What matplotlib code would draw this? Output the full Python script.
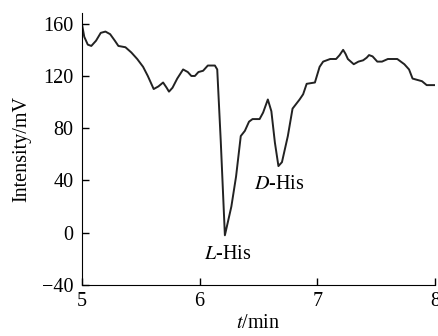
import matplotlib.pyplot as plt

# chromatogram
t = [5.0, 5.02, 5.05, 5.08, 5.12, 5.16, 5.2, 5.24, 5.28, 5.31, 5.37, 5.42, 5.47, 5.52,
     5.56, 5.59, 5.61, 5.65, 5.69, 5.72, 5.74, 5.77, 5.81, 5.86, 5.9, 5.93, 5.96, 5.99,
     6.03, 6.07, 6.10, 6.13, 6.15, 6.18, 6.215, 6.24, 6.27, 6.31, 6.35, 6.385,
     6.42, 6.45, 6.51, 6.54, 6.58, 6.61, 6.64, 6.67, 6.70, 6.75, 6.79, 6.85, 6.88,
     6.91, 6.98, 7.02, 7.05, 7.08, 7.11, 7.16, 7.19, 7.22, 7.24, 7.26, 7.31, 7.35,
     7.39, 7.42, 7.44, 7.47, 7.51, 7.55, 7.60, 7.68, 7.74, 7.78, 7.81, 7.85, 7.89,
     7.93, 8.0]
intensity = [160, 150, 144, 143, 147, 153, 154, 152, 147, 143, 142, 138, 133, 127,
             120, 114, 110, 112, 115, 111, 108, 111, 118, 125, 123, 120, 120, 123,
             124, 128, 128, 128, 125, 70, -2, 8, 20, 43, 74, 78,
             85, 87, 87, 92, 102, 93, 69, 51, 54, 74, 95, 102, 106,
             114, 115, 127, 131, 132, 133, 133, 136, 140, 137, 133, 129, 131,
             132, 134, 136, 135, 131, 131, 133, 133, 129, 125, 118, 117, 116,
             113, 113]

plt.rcParams['font.family'] = 'Liberation Serif'
plt.rcParams['mathtext.fontset'] = 'stix'
fs = 14.5

fig = plt.figure(figsize=(4.38, 3.36), dpi=100)
ax = fig.add_axes([0.187, 0.152, 0.806, 0.81])
ax.plot(t, intensity, color='#222222', lw=1.4)

ax.set_xlim(5, 8)
ax.set_ylim(-40, 168.4)
ax.set_xticks([5, 6, 7, 8])
ax.set_yticks([-40, 0, 40, 80, 120, 160])
ax.set_yticklabels(['\u221240', '0', '40', '80', '120', '160'])
ax.spines['top'].set_visible(False)
ax.spines['right'].set_visible(False)
ax.tick_params(direction='in', length=5, width=1, labelsize=fs)
ax.tick_params(axis='y', pad=6)
ax.tick_params(axis='x', pad=5)
ax.set_xlabel('$t$/min', fontsize=fs, labelpad=2)
ax.set_ylabel('Intensity/mV', fontsize=fs, labelpad=8)

ax.text(6.24, -17, '$L$-His', fontsize=fs, ha='center', va='center')
ax.text(6.68, 37, '$D$-His', fontsize=fs, ha='center', va='center')

fig.savefig('out.png', dpi=100)
